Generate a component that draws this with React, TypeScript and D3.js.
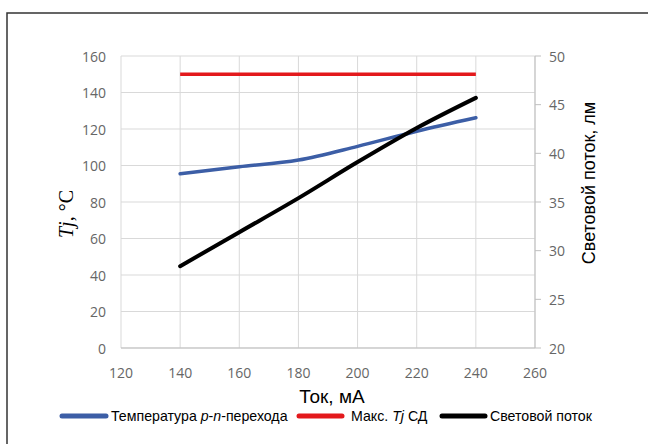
import React from "react";
import * as d3 from "d3";

// Current, mA
const current = [140, 160, 180, 200, 220, 240];
// Junction temperature, °C (left axis)
const junctionTemp = [95.5, 99.3, 103, 110.5, 118.8, 126.2];
// Maximum allowed junction temperature, °C (left axis)
const maxTj = [150, 150, 150, 150, 150, 150];
// Luminous flux, lm (right axis)
const luminousFlux = [28.4, 31.9, 35.4, 39.1, 42.6, 45.7];

const xTicks = [120, 140, 160, 180, 200, 220, 240, 260];
const leftTicks = [0, 20, 40, 60, 80, 100, 120, 140, 160];
const rightTicks = [20, 25, 30, 35, 40, 45, 50];

const W = 648;
const H = 444;
const plot = { left: 121, right: 535, top: 56, bottom: 348 };

const tickFont = "'Open Sans', 'DejaVu Sans', sans-serif";
const sansFont = "'Liberation Sans', Arial, sans-serif";
const serifFont = "'Liberation Serif', 'Times New Roman', serif";

export default function App() {
  const x = d3.scaleLinear().domain([120, 260]).range([plot.left, plot.right]);
  const yL = d3.scaleLinear().domain([0, 160]).range([plot.bottom, plot.top]);
  const yR = d3.scaleLinear().domain([20, 50]).range([plot.bottom, plot.top]);

  const tempPath = d3
    .line<[number, number]>()
    .x((d) => x(d[0]))
    .y((d) => yL(d[1]))
    .curve(d3.curveMonotoneX)(current.map((c, i) => [c, junctionTemp[i]]) as [number, number][]);
  const maxPath = d3
    .line<[number, number]>()
    .x((d) => x(d[0]))
    .y((d) => yL(d[1]))(current.map((c, i) => [c, maxTj[i]]) as [number, number][]);
  const fluxPath = d3
    .line<[number, number]>()
    .x((d) => x(d[0]))
    .y((d) => yR(d[1]))
    .curve(d3.curveMonotoneX)(current.map((c, i) => [c, luminousFlux[i]]) as [number, number][]);

  const gridColor = "#d9d9d9";
  const tickColor = "#666666";

  // legend text is drawn slightly condensed
  const legendY = 416;
  const squeeze = 0.945;
  const legend = [
    { x1: 62, x2: 106, color: "#3c5ea6", tx: 111 },
    { x1: 299, x2: 342, color: "#e3191c", tx: 351 },
    { x1: 442, x2: 485, color: "#000000", tx: 490 },
  ];

  return (
    <svg width={W} height={H} style={{ position: "absolute", left: 0, top: 0, background: "#fff" }}>
      {/* outer frame */}
      <rect x={7} y={13} width={W + 50} height={H + 50} fill="none" stroke="#333" strokeWidth={1.5} />

      {/* vertical gridlines */}
      {xTicks.map((t) => (
        <line key={"vx" + t} x1={x(t)} x2={x(t)} y1={plot.top} y2={plot.bottom} stroke={gridColor} strokeWidth={1} />
      ))}
      {/* horizontal gridlines */}
      {leftTicks.map((t) => (
        <line key={"hy" + t} x1={plot.left} x2={plot.right} y1={yL(t)} y2={yL(t)} stroke={gridColor} strokeWidth={1} />
      ))}
      {/* right axis tick marks */}
      {rightTicks.map((t) => (
        <line key={"rt" + t} x1={plot.right} x2={plot.right + 6} y1={yR(t)} y2={yR(t)} stroke="#bfbfbf" strokeWidth={1} />
      ))}
      <line x1={plot.right} x2={plot.right} y1={plot.top} y2={plot.bottom} stroke="#bfbfbf" />
      <line x1={plot.left} x2={plot.right} y1={plot.bottom} y2={plot.bottom} stroke="#bfbfbf" />

      {/* tick labels */}
      {xTicks.map((t) => (
        <text key={"xl" + t} x={x(t)} y={372} textAnchor="middle" dominantBaseline="central" fontFamily={tickFont} fontSize={14} fill={tickColor}>
          {t}
        </text>
      ))}
      {leftTicks.map((t) => (
        <text key={"ll" + t} x={106} y={yL(t)} textAnchor="end" dominantBaseline="central" fontFamily={tickFont} fontSize={14} fill={tickColor}>
          {t}
        </text>
      ))}
      {rightTicks.map((t) => (
        <text key={"rl" + t} x={549} y={yR(t)} textAnchor="start" dominantBaseline="central" fontFamily={tickFont} fontSize={14} fill={tickColor}>
          {t}
        </text>
      ))}

      {/* series */}
      <path d={maxPath ?? ""} fill="none" stroke="#e3191c" strokeWidth={3.5} />
      <path d={tempPath ?? ""} fill="none" stroke="#3c5ea6" strokeWidth={3.5} strokeLinecap="round" />
      <path d={fluxPath ?? ""} fill="none" stroke="#000" strokeWidth={4} strokeLinecap="round" />

      {/* axis titles */}
      <text x={332} y={403} textAnchor="middle" fontFamily={sansFont} fontSize={19} fill="#000">
        Ток, мА
      </text>
      <text transform="translate(73,214) rotate(-90)" textAnchor="middle" fontFamily={serifFont} fontSize={20} fill="#000">
        <tspan fontStyle="italic">Tj</tspan>, °C
      </text>
      <text transform="translate(595,183) rotate(-90)" textAnchor="middle" fontFamily={sansFont} fontSize={18} fill="#000">
        Световой поток, лм
      </text>

      {/* legend */}
      {legend.map((l, i) => (
        <line key={"lg" + i} x1={l.x1} x2={l.x2} y1={legendY} y2={legendY} stroke={l.color} strokeWidth={5} strokeLinecap="round" />
      ))}
      <text transform={`translate(${legend[0].tx},${legendY}) scale(${squeeze},1)`} dominantBaseline="central" fontFamily={sansFont} fontSize={15} fill="#000">
        Температура <tspan fontStyle="italic">p</tspan>-<tspan fontStyle="italic">n</tspan>-перехода
      </text>
      <text transform={`translate(${legend[1].tx},${legendY}) scale(${squeeze},1)`} dominantBaseline="central" fontFamily={sansFont} fontSize={15} fill="#000">
        Макс. <tspan fontStyle="italic">Tj</tspan> СД
      </text>
      <text transform={`translate(${legend[2].tx},${legendY}) scale(${squeeze},1)`} dominantBaseline="central" fontFamily={sansFont} fontSize={15} fill="#000">
        Световой поток
      </text>
    </svg>
  );
}
